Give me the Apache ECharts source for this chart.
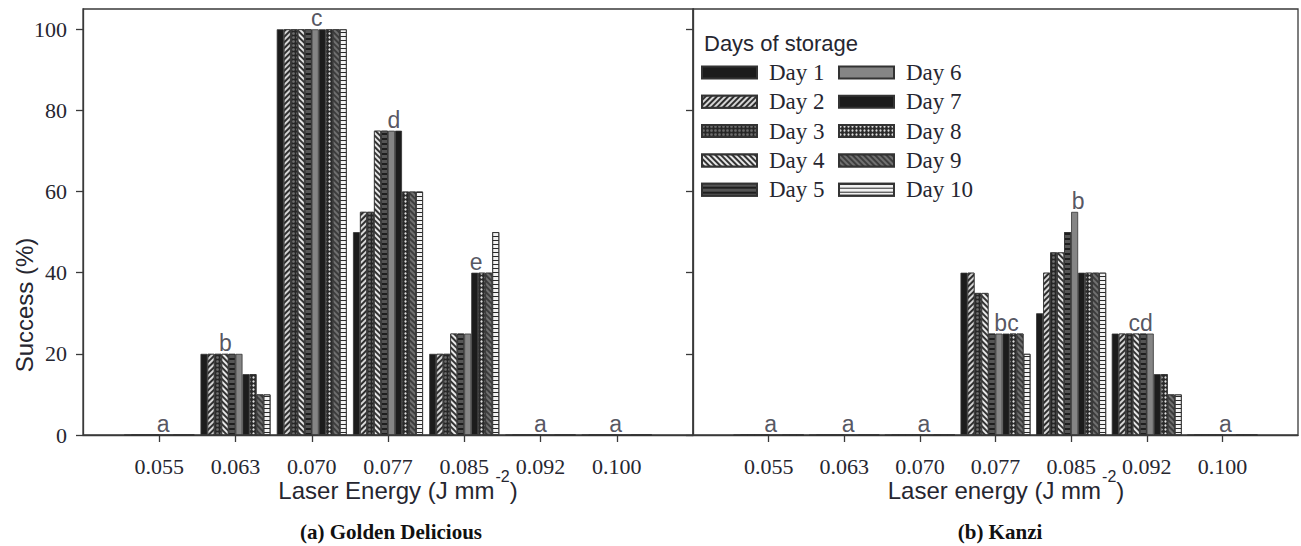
<!DOCTYPE html>
<html><head><meta charset="utf-8">
<script src="https://cdn.jsdelivr.net/npm/echarts@6/dist/echarts.min.js"></script>
<style>html,body{margin:0;padding:0;background:#fff}#c{width:1301px;height:546px}</style>
</head><body><div id="c"></div>
<script>
// ---------- DATA ----------
const energies = ['0.055','0.063','0.070','0.077','0.085','0.092','0.100'];
const days = ['Day 1','Day 2','Day 3','Day 4','Day 5','Day 6','Day 7','Day 8','Day 9','Day 10'];
const yTicks = [0, 20, 40, 60, 80, 100];

// (a) Golden Delicious: success (%) for Day 1..Day 10 at each laser energy
const gd_055 = [0,0,0,0,0,0,0,0,0,0];
const gd_063 = [20,20,20,20,20,20,15,15,10,10];
const gd_070 = [100,100,100,100,100,100,100,100,100,100];
const gd_077 = [50,55,55,75,75,75,75,60,60,60];
const gd_085 = [20,20,20,25,25,25,40,40,40,50];
const gd_092 = [0,0,0,0,0,0,0,0,0,0];
const gd_100 = [0,0,0,0,0,0,0,0,0,0];
const gdLetters = ['a','b','c','d','e','a','a'];
const gdLetterHeight = [0,20,100,75,40,0,0];

// (b) Kanzi
const kz_055 = [0,0,0,0,0,0,0,0,0,0];
const kz_063 = [0,0,0,0,0,0,0,0,0,0];
const kz_070 = [0,0,0,0,0,0,0,0,0,0];
const kz_077 = [40,40,35,35,25,25,25,25,25,20];
const kz_085 = [30,40,45,45,50,55,40,40,40,40];
const kz_092 = [25,25,25,25,25,25,15,15,10,10];
const kz_100 = [0,0,0,0,0,0,0,0,0,0];
const kzLetters = ['a','a','a','bc','b','cd','a'];
const kzLetterHeight = [0,0,0,25,55,25,0];

// ---------- STYLE ----------
const gdLetterShift = [4,-10,5,6,12,0,-1];
const kzLetterShift = [2,4,4,11,7,-6,3];
const SANS = 'Liberation Sans', SERIF = 'Liberation Serif';
const TXT = '#262630';
const AX = '#3a3a3a';
const stripe = (c, rot, on, off) => ({symbol:'rect', symbolSize:1, color:c, dashArrayX:[1,0], dashArrayY:[on,off], rotation:rot});
const dots = (c, size, step) => ({symbol:'circle', symbolSize:size, color:c, dashArrayX:[step,1], dashArrayY:[step,1], rotation:0});
const dayStyles = [
  {color:'#1c1c1c'},
  {color:'#2e2e2e', decal: stripe('#d6d6d6', -Math.PI/4, 2, 2)},
  {color:'#262626', decal: dots('#6e6e6e', 0.9, 3)},
  {color:'#343434', decal: stripe('#e8e8e8', Math.PI/4, 2, 2)},
  {color:'#1e1e1e', decal: stripe('#555555', 0, 3, 2)},
  {color:'#858585'},
  {color:'#1c1c1c'},
  {color:'#2a2a2a', decal: dots('#e2e2e2', 0.75, 3)},
  {color:'#3d3d3d', decal: stripe('#707070', Math.PI/4, 2, 2)},
  {color:'#f2f2f2', decal: stripe('#2a2a2a', 0, 1, 3)}
].map(s => Object.assign({borderColor:'#333', borderWidth:0.8}, s));

const padded = arr => [''].concat(arr).concat(['']);
const gdRows = [gd_055, gd_063, gd_070, gd_077, gd_085, gd_092, gd_100];
const kzRows = [kz_055, kz_063, kz_070, kz_077, kz_085, kz_092, kz_100];

function xAxisFor(gi) {
  return {
    type:'category', gridIndex:gi, data: padded(energies), boundaryGap:false,
    axisLine:{lineStyle:{color:AX, width:1.3}},
    axisTick:{length:7, interval:(i)=> i>0 && i<energies.length+1, lineStyle:{color:AX, width:1.3}},
    axisLabel:{interval:0, margin:21, fontFamily:SERIF, fontSize:22, lineHeight:20, color:TXT},
    splitLine:{show:false}
  };
}
function yAxisFor(gi, showLabels) {
  return {
    type:'value', gridIndex:gi, min:0, max:105,
    axisLine:{show:true, lineStyle:{color:AX, width:1.3}},
    axisTick:{show:true, length:7, customValues:yTicks, lineStyle:{color:AX, width:1.3}},
    axisLabel:{show:showLabels, customValues:yTicks, margin:16, fontFamily:SERIF, fontSize:22, color:TXT},
    splitLine:{show:false}
  };
}

const series = [];
[gdRows, kzRows].forEach((rows, gi) => {
  days.forEach((d, di) => {
    series.push({
      type:'bar', name:d, xAxisIndex:gi, yAxisIndex:gi,
      barWidth:7, barGap:'0%',
      data:[null].concat(rows.map(r => r[di])).concat([null]),
      itemStyle: dayStyles[di]
    });
  });
});
[[gdLetters, gdLetterHeight, gdLetterShift], [kzLetters, kzLetterHeight, kzLetterShift]].forEach(([lab, h, sh], gi) => {
  series.push({
    type:'scatter', xAxisIndex:gi, yAxisIndex:gi, symbolSize:1, z:5,
    itemStyle:{color:'rgba(0,0,0,0)'}, silent:true,
    data: lab.map((t, i) => ({value:[i+1, h[i]], name:t, label:{offset:[sh[i], 0]}})),
    label:{show:true, position:'top', distance:-1, formatter:p=>p.name,
      fontFamily:SANS, fontSize:23, color:'#2a2a38'}
  });
});

const legendBase = {
  orient:'vertical', top:56, itemWidth:55, itemHeight:12, itemGap:6.3, icon:'rect',
  selectedMode:false,
  textStyle:{fontFamily:SERIF, fontSize:23, lineHeight:22, color:TXT, padding:[0,0,0,7]}
};

// axis title with a raised "-2" exponent, laid out piece by piece
const measureCtx = document.createElement('canvas').getContext('2d');
function textWidth(t, size) { measureCtx.font = size + 'px "' + SANS + '"'; return measureCtx.measureText(t).width; }
function supTitle(main, cx, yMid) {
  const pieces = [[main, 24, 0, 1], ['-2', 16, -14, 0], [')', 24, 0, 0]];
  const widths = pieces.map(p => textWidth(p[0], p[1]) + p[3]);
  let x = cx - widths.reduce((a, b) => a + b, 0) / 2;
  return pieces.map((p, i) => {
    const el = {type:'text', x:x, y:yMid + p[2],
      style:{text:p[0], fontFamily:SANS, fontSize:p[1], fill:TXT, align:'left', verticalAlign:'middle'}};
    x += widths[i];
    return el;
  });
}

const option = {
  animation:false,
  backgroundColor:'#fff',
  grid:[
    {left:83, top:9, width:610, height:426, show:true, borderColor:AX, borderWidth:1.3},
    {left:693, top:9, width:608, height:426, show:true, borderColor:AX, borderWidth:1.3}
  ],
  xAxis:[xAxisFor(0), xAxisFor(1)],
  yAxis:[yAxisFor(0, true), yAxisFor(1, false)],
  legend:[
    Object.assign({}, legendBase, {left:696, data:days.slice(0,5)}),
    Object.assign({}, legendBase, {left:833, data:days.slice(5)})
  ],
  graphic:[
    {type:'text', x:704, y:43, style:{text:'Days of storage', fontFamily:SANS, fontSize:22, fill:TXT, align:'left', verticalAlign:'middle'}},
    {type:'text', x:24, y:305, rotation:Math.PI/2, style:{text:'Success (%)', fontFamily:SANS, fontSize:24, fill:TXT, align:'center', verticalAlign:'middle'}},
    ...supTitle('Laser Energy (J mm', 398, 490),
    ...supTitle('Laser energy (J mm', 1006, 490),
    {type:'text', x:391, y:532, style:{text:'(a) Golden Delicious', fontFamily:SERIF, fontWeight:'bold', fontSize:21, fill:'#111', align:'center', verticalAlign:'middle'}},
    {type:'text', x:1000, y:532, style:{text:'(b) Kanzi', fontFamily:SERIF, fontWeight:'bold', fontSize:21, fill:'#111', align:'center', verticalAlign:'middle'}}
  ],
  series:series
};
const chart = echarts.init(document.getElementById('c'), null, {renderer:'svg'});
chart.setOption(option);
</script>
</body></html>
